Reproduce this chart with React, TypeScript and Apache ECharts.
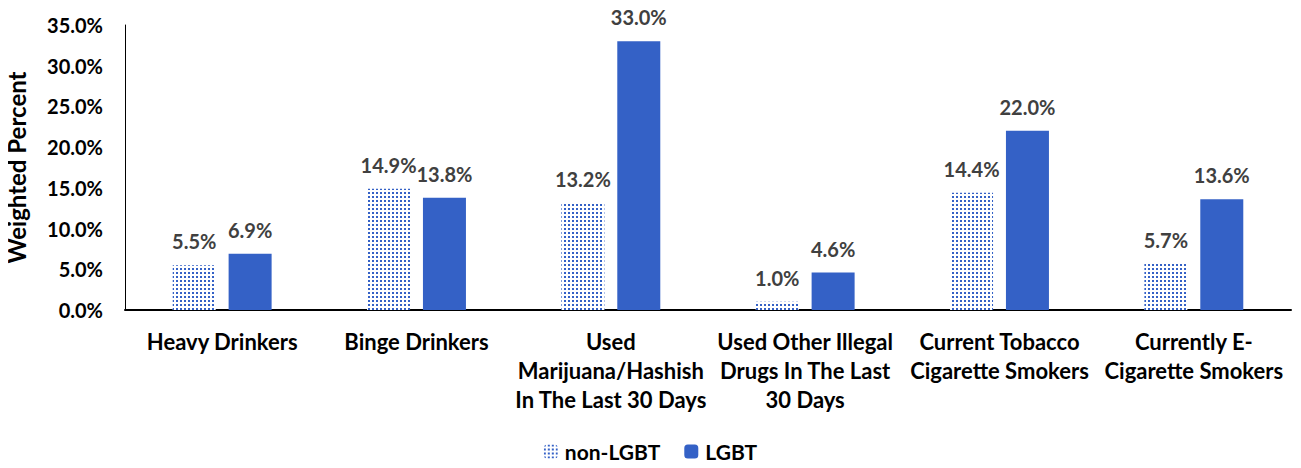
import React, { useEffect, useRef } from "react";
import * as echarts from "echarts";

const categories = [
  "Heavy Drinkers",
  "Binge Drinkers",
  "Used\nMarijuana/Hashish\nIn The Last 30 Days",
  "Used Other Illegal\nDrugs In The Last\n30 Days",
  "Current Tobacco\nCigarette Smokers",
  "Currently E-\nCigarette Smokers",
];
const nonLgbt = [5.5, 14.9, 13.2, 1.0, 14.4, 5.7];
const lgbt = [6.9, 13.8, 33.0, 4.6, 22.0, 13.6];
const seriesNames = ["non-LGBT", "LGBT"];
const yTicks = { min: 0, max: 35, interval: 5 };

const FONT = "Lato, 'Open Sans', sans-serif";
const BLUE = "#3461C6";

export default function App() {
  const ref = useRef<HTMLDivElement>(null);
  useEffect(() => {
    if (!ref.current) return;
    const chart = echarts.init(ref.current, null, { renderer: "svg" });
    const label = {
      show: true,
      position: "top",
      distance: 14,
      formatter: (p: any) => p.value.toFixed(1) + "%",
      color: "#404040",
      fontWeight: "bold",
      fontSize: 20,
      fontFamily: FONT,
    };
    chart.setOption({
      animation: false,
      grid: {
        left: 125,
        right: 10,
        top: 25,
        bottom: 158,
        containLabel: false,
        outerBoundsMode: "none",
      },
      legend: {
        top: 436,
        left: "center",
        itemWidth: 14,
        itemHeight: 14,
        itemGap: 24,
        textStyle: { fontFamily: FONT, fontWeight: "bold", fontSize: 21, color: "#000", padding: [0, 0, 0, 2] },
        data: seriesNames,
      },
      xAxis: {
        type: "category",
        data: categories,
        axisLine: { lineStyle: { color: "#000", width: 2 } },
        axisTick: { show: false },
        axisLabel: {
          interval: 0,
          margin: 17,
          fontFamily: FONT,
          fontWeight: "bold",
          fontSize: 22,
          color: "#000",
          lineHeight: 29,
        },
      },
      yAxis: {
        type: "value",
        min: yTicks.min,
        max: yTicks.max,
        interval: yTicks.interval,
        name: "Weighted Percent",
        nameLocation: "middle",
        nameGap: 97,
        nameTextStyle: { fontFamily: FONT, fontWeight: "bold", fontSize: 24, color: "#000" },
        axisLine: { show: true, lineStyle: { color: "#000", width: 1 } },
        axisTick: { show: false },
        splitLine: { show: false },
        axisLabel: {
          margin: 22,
          formatter: (v: number) => v.toFixed(1) + "%",
          fontFamily: FONT,
          fontWeight: "bold",
          fontSize: 20,
          color: "#000",
        },
      },
      series: [
        {
          name: seriesNames[0],
          type: "bar",
          data: nonLgbt,
          barWidth: 43,
          barGap: "30%",
          itemStyle: {
            color: "#ffffff",
            decal: {
              symbol: "rect",
              symbolSize: 1,
              color: BLUE,
              backgroundColor: "#ffffff",
              dashArrayX: [2, 2],
              dashArrayY: [2, 2],
              rotation: 0,
            },
          },
          label,
        },
        {
          name: seriesNames[1],
          type: "bar",
          data: lgbt,
          barWidth: 43,
          itemStyle: { color: BLUE },
          label,
        },
      ],
    });
    return () => chart.dispose();
  }, []);
  return <div ref={ref} style={{ width: 1301, height: 468, margin: -8 }} />;
}
